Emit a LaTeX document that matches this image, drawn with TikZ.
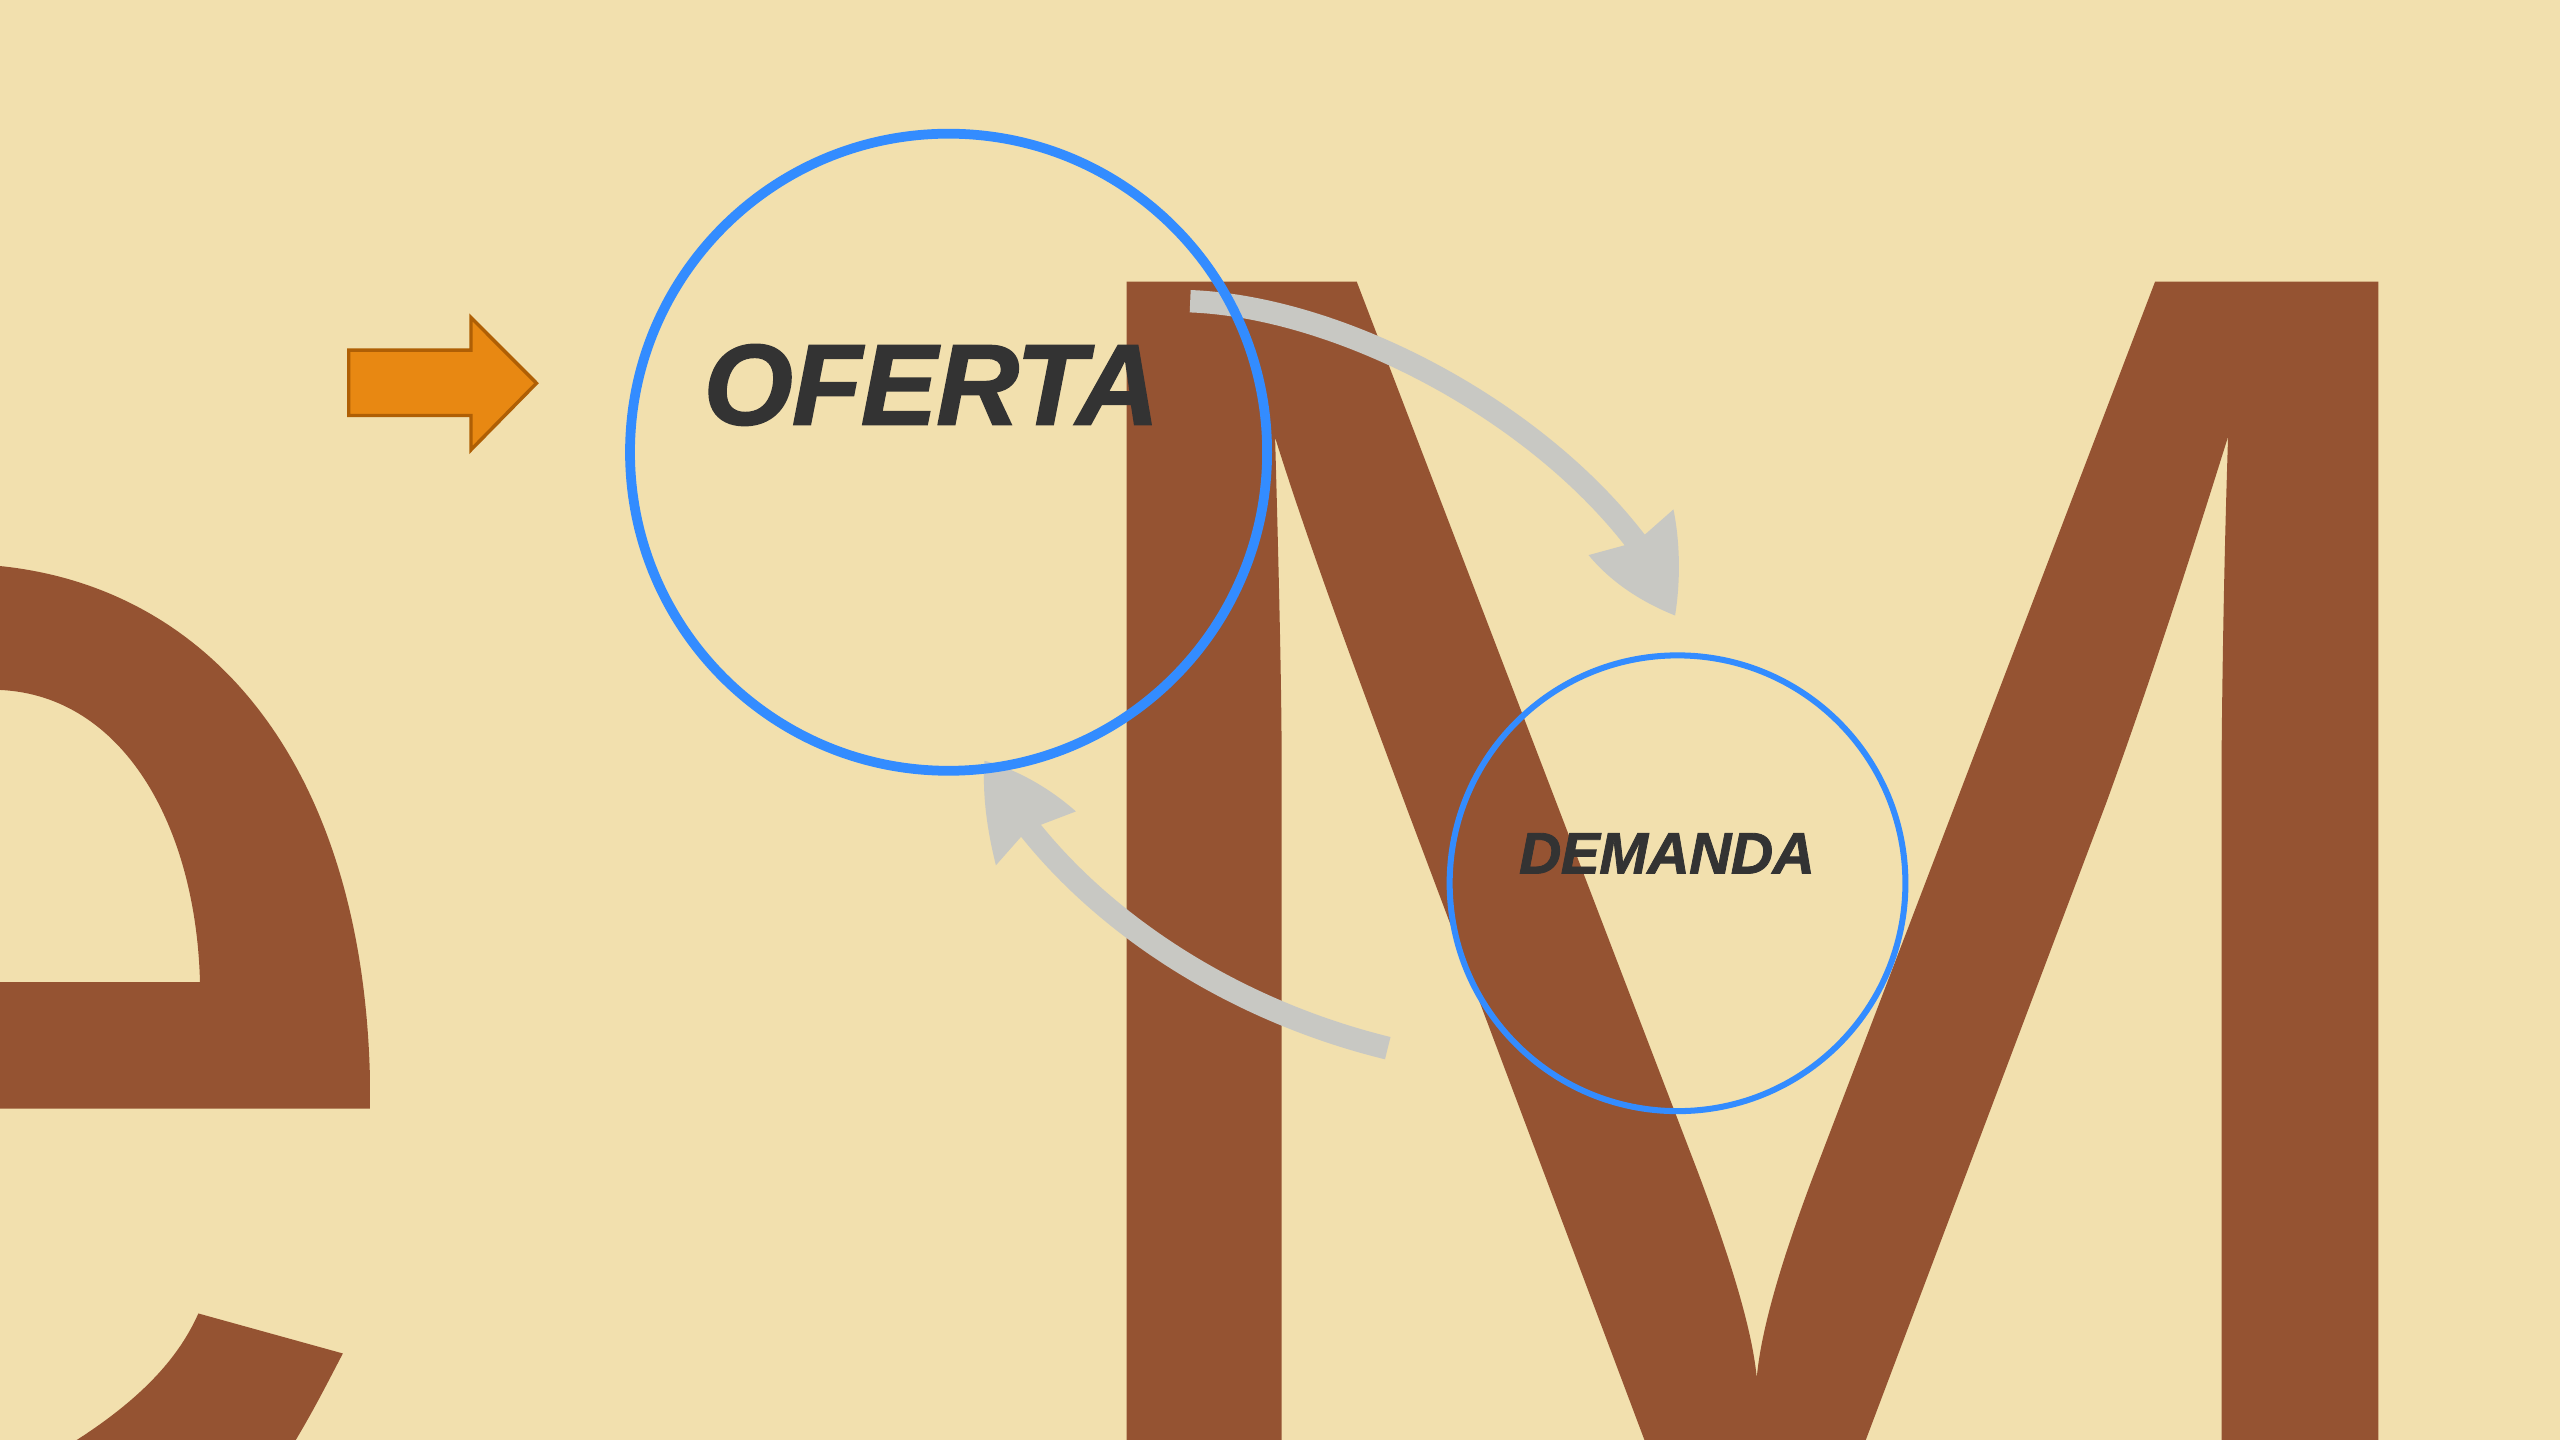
\documentclass[tikz,border=0pt]{standalone}
\usepackage{fontspec}
\newfontfamily\lsans[FakeBold=1.4,LetterSpace=-1]{Liberation Sans}
\definecolor{bgc}{RGB}{242,224,174}
\definecolor{brownc}{RGB}{149,83,50}
\definecolor{bluec}{RGB}{51,140,255}
\definecolor{grayc}{RGB}{200,200,195}
\definecolor{txtc}{RGB}{51,51,51}
\definecolor{orangec}{RGB}{232,136,18}
\definecolor{orangeb}{RGB}{175,95,5}
\begin{document}
\begin{tikzpicture}[x=0.01cm,y=-0.01cm,
  bigletter/.style={fill=brownc},
  ring/.style={circle,draw=bluec,inner sep=0pt,outer sep=0pt},
  shaft/.style={draw=grayc,line width=3.9pt,line cap=butt},
  headfill/.style={fill=grayc},
  label/.style={text=txtc,inner sep=0pt}]
\useasboundingbox (0,0) rectangle (1568,882);
\fill[bgc] (0,0) rectangle (1568,882);
\begin{scope}
\clip (0,0) rectangle (1568,882);
% letter e (bowl and crossbar)
\fill[bigletter] (-20,344) -- (0,346.7)
  .. controls (130,360) and (222,470) .. (226.6,660) -- (226.6,679)
  -- (-20,679) -- (-20,601.6) -- (122.5,601.6)
  .. controls (120,505) and (75,426) .. (0,422.6)
  -- (-20,422) -- cycle;
% letter e (terminal)
\fill[bigletter] (121.5,804.5) -- (210,829) .. controls (198,852) and (188,872) .. (170,900) -- (10,900)
  -- (20,898) .. controls (80,865) and (108,835) .. (121.5,804.5) -- cycle;
% letter M
\fill[bigletter] (690,172.5) -- (831,172.5) -- (1040,718)
  .. controls (1055,758) and (1073,810) .. (1076,844)
  .. controls (1079,810) and (1095,762) .. (1110,722)
  -- (1320,172.5) -- (1456.7,172.5) -- (1456.7,900) -- (1360.7,900) -- (1360.7,465.5)
  .. controls (1361.5,380) and (1363,320) .. (1364.7,267.5)
  .. controls (1342,340) and (1318,415) .. (1290,492)
  -- (1136,900) -- (1014,900) -- (862,496)
  .. controls (830,410) and (802,335) .. (781,268)
  .. controls (783,340) and (785,420) .. (785,465.5)
  -- (785,900) -- (690,900) -- cycle;
\end{scope}
% orange arrow
\draw[fill=orangec,draw=orangeb,line width=0.6pt,line join=miter]
  (213.6,214.4) -- (288.5,214.4) -- (288.5,194.5) -- (328.6,234.7) -- (288.5,275.5) -- (288.5,254.5) -- (213.6,254.5) -- cycle;
% gray connectors
\coordinate (a1s) at (729,184.5);
\coordinate (a1e) at (1003,333);
\coordinate (a2s) at (850,642);
\coordinate (a2e) at (630,507);
\draw[shaft] (a1s) .. controls (820,188) and (940,250) .. (a1e);
\fill[headfill] (995,334) -- (973,340) .. controls (987,357) and (1006,369) .. (1026,377)
  .. controls (1029.5,355) and (1029,332) .. (1025,312) -- (1008,327) -- cycle;
\draw[shaft,line width=4pt] (a2s) .. controls (760,620) and (680,570) .. (a2e);
\fill[headfill] (638,505) -- (659,497) .. controls (642,482) and (622,471) .. (603,466)
  .. controls (601.5,488) and (605,510) .. (610,530) -- (625,513) -- cycle;
% circles
\node[ring,line width=1.7pt,minimum size=3.9cm] (oferta) at (581,277) {};
\node[ring,line width=1.05pt,minimum size=2.79cm] (demanda) at (1027.5,541) {};
% labels
\node[label,anchor=base,font=\lsans\bfseries\itshape\fontsize{20}{24}\selectfont] (tOferta) at (570.5,260) {OFERTA};
\node[label,anchor=base,font=\lsans\bfseries\itshape\fontsize{10.2}{12}\selectfont] (tDemanda) at (1021,535) {DEMANDA};
\end{tikzpicture}
\end{document}
